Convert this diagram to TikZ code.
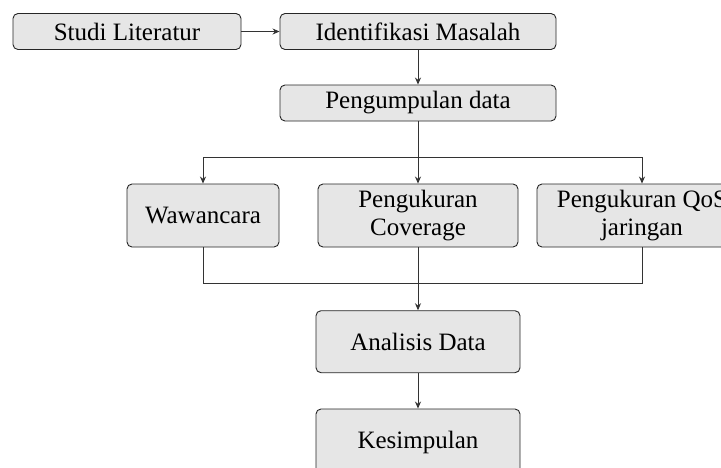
\documentclass[tikz,border=0pt]{standalone}
\usepackage{fontspec}
\setmainfont{Liberation Serif}
\usetikzlibrary{arrows.meta}
\definecolor{boxfill}{RGB}{230,230,230}
\tikzset{
  box/.style={draw=black!85, fill=boxfill, rounded corners=5pt, line width=0.9pt,
    inner sep=0pt, align=center, font=\fontsize{25}{28}\selectfont},
  conn/.style={draw=black!80, line width=0.9pt},
  arr/.style={conn, -{Stealth[length=7pt,width=6pt]}}
}
\begin{document}
\begin{tikzpicture}[x=1pt,y=-1pt]
\clip (0,0) rectangle (721,467);
\fill[white] (0,0) rectangle (721,467);
\node[box, minimum width=228pt, minimum height=36pt] (studi) at (127,31.5) {Studi Literatur};
\node[box, minimum width=276pt, minimum height=36pt] (ident) at (418,31.5) {Identifikasi Masalah};
\node[box, minimum width=276pt, minimum height=36pt] (peng) at (418,103) {Pengumpulan data};
\node[box, minimum width=152pt, minimum height=63pt] (waw) at (203,215.5) {Wawancara};
\node[box, minimum width=200pt, minimum height=63pt] (cov) at (418,215.5) {Pengukuran\\Coverage};
\node[box, minimum width=210pt, minimum height=63pt] (qos) at (642,215.5) {Pengukuran QoS\\jaringan};
\node[box, minimum width=204pt, minimum height=62pt] (anal) at (418,341.7) {Analisis Data};
\node[box, minimum width=204pt, minimum height=66pt] (kes) at (418,442) {Kesimpulan};
\coordinate (split) at (418,157);
\coordinate (join) at (418,283);
\draw[arr] (studi) -- (ident);
\draw[arr] (ident) -- (peng);
\draw[conn] (peng.south) -- (split);
\draw[arr] (split) -| (waw.north);
\draw[arr] (split) -- (cov.north);
\draw[arr] (split) -| (qos.north);
\draw[conn] (waw.south) |- (join);
\draw[conn] (qos.south) |- (join);
\draw[conn] (cov.south) -- (join);
\draw[arr] (join) -- (anal.north);
\draw[arr] (anal) -- (kes);
\end{tikzpicture}
\end{document}
